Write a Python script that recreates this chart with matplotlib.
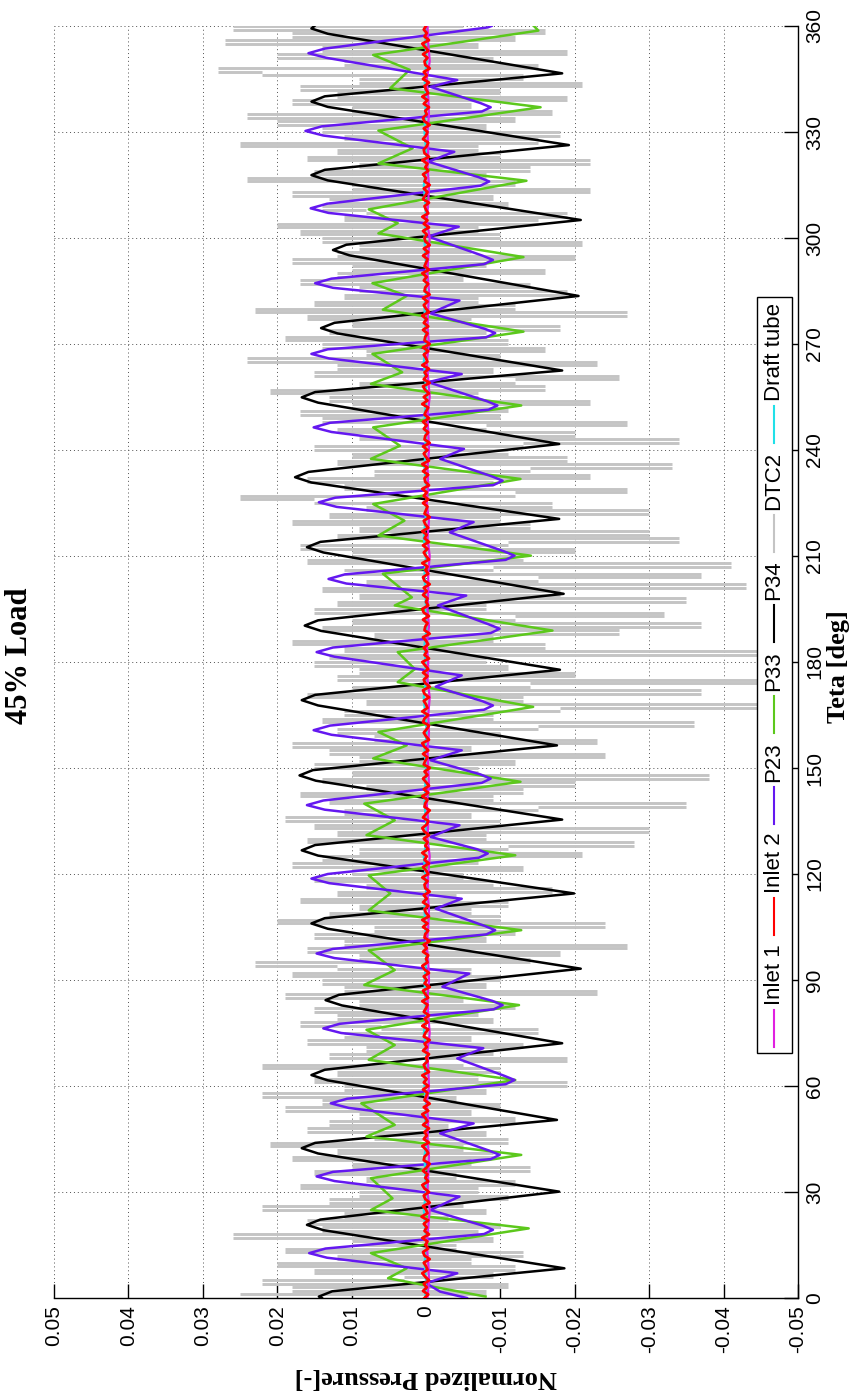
import numpy as np
import matplotlib
matplotlib.use('Agg')
import matplotlib.pyplot as plt
from matplotlib.lines import Line2D
from matplotlib.patches import Rectangle

W, H = 858, 1397

# ---------------- data ----------------
teta_ticks = [0, 30, 60, 90, 120, 150, 180, 210, 240, 270, 300, 330, 360]
teta_labels = [str(t) for t in teta_ticks]
pressure_ticks = [0.05, 0.04, 0.03, 0.02, 0.01, 0.0, -0.01, -0.02, -0.03, -0.04, -0.05]
pressure_labels = ['0.05', '0.04', '0.03', '0.02', '0.01', '0',
                   '-0.01', '-0.02', '-0.03', '-0.04', '-0.05']

legend_names = ['Inlet 1', 'Inlet 2', 'P23', 'P33', 'P34', 'DTC2', 'Draft tube']
legend_colors = ['#e020e0', '#ff0000', '#6418f0', '#5cc81c', '#000000', '#c4c4c4', '#20e0e8']

# P34 (black) vertices
p34_teta = [0.0, 0.4, 1.9, 8.4,
            19.2, 20.7, 22.2, 30.1,
            40.9, 42.4, 43.9, 50.4,
            61.6, 63.1, 64.6, 72.1,
            82.8, 84.3, 85.8, 93.2,
            104.5, 106.0, 107.5, 114.5,
            125.2, 126.7, 128.2, 135.4,
            146.4, 147.9, 149.4, 156.4,
            167.7, 169.2, 170.7, 177.8,
            188.8, 190.3, 191.8, 199.3,
            211.0, 212.5, 214.0, 220.5,
            230.8, 232.3, 233.8, 241.7,
            253.4, 254.9, 256.4, 262.5,
            273.0, 274.5, 276.0, 283.6,
            295.1, 296.6, 298.1, 305.1,
            316.3, 317.8, 319.3, 326.3,
            337.1, 338.6, 340.1, 346.6,
            357.8, 359.3, 360.0]
p34_val = [0.0140, 0.0144, 0.0126, -0.0186,
           0.0138, 0.0160, 0.0142, -0.0179,
           0.0145, 0.0167, 0.0149, -0.0176,
           0.0132, 0.0154, 0.0136, -0.0183,
           0.0113, 0.0135, 0.0117, -0.0208,
           0.0132, 0.0154, 0.0136, -0.0199,
           0.0145, 0.0167, 0.0149, -0.0183,
           0.0148, 0.0170, 0.0152, -0.0176,
           0.0145, 0.0167, 0.0149, -0.0180,
           0.0141, 0.0163, 0.0145, -0.0185,
           0.0138, 0.0160, 0.0142, -0.0179,
           0.0154, 0.0176, 0.0158, -0.0179,
           0.0145, 0.0167, 0.0149, -0.0183,
           0.0119, 0.0141, 0.0123, -0.0205,
           0.0103, 0.0125, 0.0107, -0.0208,
           0.0132, 0.0154, 0.0136, -0.0192,
           0.0132, 0.0154, 0.0136, -0.0183,
           0.0132, 0.0154, 0.0150]

# P23 (purple) vertices
p23_teta = [0.0, 1.8, 4.2, 7.0, 11.4, 12.7, 14.0, 18.1, 19.3, 20.5,
            24.9, 28.7, 33.1, 34.4, 35.7, 39.3, 40.5, 41.7,
            46.6, 49.4, 53.8, 55.1, 56.4, 60.5, 61.7, 62.9,
            67.8, 70.7, 75.0, 76.3, 77.6, 81.7, 82.9, 84.1,
            88.1, 91.8, 96.2, 97.5, 98.8, 102.9, 104.1, 105.3,
            110.2, 113.0, 117.4, 118.7, 120.0, 124.6, 125.8, 127.0,
            130.5, 133.8, 138.2, 139.5, 140.8, 145.8, 147.0, 148.2,
            152.2, 155.0, 159.4, 160.7, 162.0, 166.5, 167.7, 168.9,
            173.0, 176.2, 181.5, 182.8, 184.1, 188.2, 189.4, 190.6,
            196.0, 198.8, 202.2, 203.5, 204.8, 208.9, 210.1, 211.3,
            216.7, 219.6, 223.9, 225.2, 226.5, 230.1, 231.3, 232.5,
            237.5, 240.3, 245.1, 246.4, 247.7, 251.4, 252.6, 253.8,
            259.2, 261.5, 265.9, 267.2, 268.5, 271.9, 273.1, 274.3,
            278.7, 282.3, 285.9, 287.2, 288.5, 292.6, 293.8, 295.0,
            300.4, 303.2, 307.1, 308.4, 309.7, 314.8, 316.0, 317.2,
            321.6, 324.4, 329.0, 330.3, 331.6, 335.8, 337.0, 338.2,
            342.8, 344.7, 351.0, 352.3, 353.6, 359.6, 360.0]
p23_val = [-0.0055, -0.0019, 0.0000, -0.0042, 0.0133, 0.0157, 0.0135, -0.0078, -0.0090, -0.0076,
           -0.0006, -0.0045, 0.0123, 0.0147, 0.0125, -0.0087, -0.0099, -0.0085,
           -0.0019, -0.0064, 0.0104, 0.0128, 0.0106, -0.0107, -0.0119, -0.0105,
           -0.0042, -0.0077, 0.0114, 0.0138, 0.0116, -0.0091, -0.0103, -0.0089,
           -0.0022, -0.0058, 0.0123, 0.0147, 0.0125, -0.0081, -0.0093, -0.0079,
           -0.0013, -0.0048, 0.0130, 0.0154, 0.0132, -0.0071, -0.0083, -0.0069,
           -0.0006, -0.0045, 0.0136, 0.0160, 0.0138, -0.0075, -0.0087, -0.0073,
           -0.0006, -0.0048, 0.0127, 0.0151, 0.0129, -0.0078, -0.0090, -0.0076,
           -0.0013, -0.0048, 0.0123, 0.0147, 0.0125, -0.0087, -0.0099, -0.0085,
           -0.0016, -0.0054, 0.0107, 0.0131, 0.0109, -0.0107, -0.0119, -0.0105,
           -0.0032, -0.0064, 0.0120, 0.0144, 0.0122, -0.0091, -0.0103, -0.0089,
           -0.0019, -0.0051, 0.0127, 0.0151, 0.0129, -0.0084, -0.0096, -0.0082,
           -0.0003, -0.0048, 0.0130, 0.0154, 0.0132, -0.0081, -0.0093, -0.0079,
           -0.0006, -0.0045, 0.0125, 0.0149, 0.0127, -0.0078, -0.0090, -0.0076,
           -0.0003, -0.0044, 0.0131, 0.0155, 0.0133, -0.0073, -0.0085, -0.0071,
           -0.0003, -0.0038, 0.0138, 0.0162, 0.0140, -0.0075, -0.0087, -0.0073,
           -0.0006, -0.0042, 0.0134, 0.0158, 0.0136, -0.0083, -0.0088]

# P33 (green) vertices
p33_teta = [0.4, 5.6, 8.4, 12.7, 19.7, 24.9, 28.2, 33.9, 40.5, 45.7, 49.0, 55.1, 61.7,
            67.4, 71.6, 75.9, 82.9, 88.6, 92.8, 98.4, 104.1, 109.7, 114.5, 119.6,
            125.3, 131.0, 135.2, 139.9, 146.1, 152.7, 156.4, 160.2, 167.3, 174.3,
            178.0, 182.8, 188.9, 196.0, 198.3, 205.0, 210.1, 215.8, 220.0, 224.7,
            231.8, 237.5, 241.2, 246.4, 252.6, 258.7, 262.0, 267.2, 273.5, 279.7,
            283.6, 287.2, 294.6, 301.3, 304.2, 308.1, 316.2, 321.1, 325.4, 330.4,
            337.0, 342.4, 347.6, 351.8, 358.7, 360.0]
p33_val = [-0.0080, 0.0051, 0.0026, 0.0074, -0.0138, 0.0074, 0.0045, 0.0074, -0.0128,
           0.0080, 0.0042, 0.0087, -0.0120, 0.0077, 0.0042, 0.0080, -0.0125, 0.0083,
           0.0042, 0.0077, -0.0128, 0.0077, 0.0048, 0.0077, -0.0120, 0.0080, 0.0042,
           0.0083, -0.0127, 0.0071, 0.0026, 0.0064, -0.0144, 0.0038, 0.0015, 0.0038,
           -0.0170, 0.0042, 0.0019, 0.0058, -0.0141, 0.0064, 0.0029, 0.0071, -0.0127,
           0.0074, 0.0035, 0.0071, -0.0128, 0.0074, 0.0032, 0.0072, -0.0131, 0.0058,
           0.0026, 0.0072, -0.0131, 0.0064, 0.0038, 0.0077, -0.0135, 0.0064, 0.0018,
           0.0064, -0.0154, 0.0048, 0.0022, 0.0071, -0.0151, -0.0145]

# DTC2 (grey), one sample per degree, units of 1e-3
dtc2_e3 = [
    25, -8, 18, -11, 22, 3, -9, 15, -12, 20,
    -6, 12, -13, 19, -4, 10, -9, 26, -7, 14,
    -10, 16, -3, 11, -8, 22, -5, 13, -11, 9,
    -7, 17, -12, 8, -4, 15, -14, 10, -6, 18,
    -9, 12, -5, 21, -11, 7, -8, 16, -3, 13,
    -12, 9, -6, 19, -10, 14, -4, 22, -8, 11,
    -19, 15, -7, 12, -10, 22, -5, -19, 13, -9,
    8, -13, 16, -6, 11, -15, 6, 17, -9, 12,
    -7, 15, -12, 9, -5, 19, -23, 11, -8, 14,
    -10, 18, -6, 12, 23, -14, 9, -18, 16, -27,
    11, -8, 15, -12, 7, -24, 20, -10, 13, -6,
    9, -11, 17, -4, 12, -17, 8, -9, 15, -5,
    10, -13, 18, -7, 14, -21, 9, -11, -28, 16,
    -8, 12, -30, 15, -10, 19, -6, 11, -15, -35,
    13, -9, 17, -13, 8, -20, 14, -38, 10, -7,
    15, -12, 9, -24, 13, -6, 18, -23, 7, -10,
    12, -15, -36, 14, -9, 11, -18, -45, 8, -13,
    16, -37, 10, -14, -45, 12, -20, 9, -11, 15,
    -8, 13, -45, 11, -16, 18, -9, 7, -26, 14,
    -37, 10, -12, -32, 15, -8, 12, -35, 9, -18,
    14, -43, 8, -15, -37, 11, -9, -41, 16, -13,
    10, -20, 17, -11, -34, 12, -30, 9, -14, 18,
    -10, 13, -30, 8, -17, 15, 25, -12, -27, 11,
    -9, 16, -22, 7, -14, -33, 12, -19, 10, -11,
    15, -13, -34, 9, -20, 12, -8, -27, 14, -10,
    17, -11, 10, -22, 13, -7, 21, -16, 9, -12,
    -26, 15, -9, 12, -23, 24, -10, 8, -16, 14,
    -11, 19, -8, 13, -18, 10, -6, 16, -27, 23,
    -12, 15, -7, 11, -19, 9, -14, 17, -5, 12,
    -16, 10, -8, 18, -20, 12, -6, 9, -21, 14,
    -10, 17, -7, 20, -15, 11, -19, 8, 14, -11,
    13, -9, 18, -22, 10, -12, 24, -8, 15, -14,
    9, -22, 16, -10, 12, -7, 25, -15, 11, -18,
    14, -8, 20, -12, 24, -17, 10, -6, 18, -19,
    12, -10, 17, -21, 9, -13, 22, 28, -15, 11,
    -9, 20, -19, 14, -7, 27, -12, 18, -16, 26,
    -5]

# Inlet 2 (red), one sample per degree, units of 1e-4
inlet2_e4 = [
    2, -3, 4, -1, 3, -4, 1, 5, -2, 0,
    3, -5, 2, 4, -3, 1, -2, 5, -4, 2,
    -1, 3, -3, 6, -2, 0, 4, -5, 1, 3,
    -4, 2, 5, -3, 1, -2, 4, -1, -5, 3,
    2, -3, 0, 5, -4, 3, -1, 2, -4, 4,
    -2, 1, 5, -3, 3, -5, 2, 0, -2, 4,
    -3, 3, -1, 5, -4, 1, 3, -2, 0, -4,
    4, -1, 2, -5, 3, 1, -3, 5, -2, 2,
    -4, 3, 0, -2, 5, -3, 1, 4, -5, 2,
    -1, 3, -4, 2, 5, -2, 0, -3, 4, -1,
    3, -5, 2, 1, -3, 4, -2, 5, -4, 0,
    2, -3, 4, -1, 3, -5, 1, 2, -2, 5,
    -3, 0, 4, -4, 2, -1, 5, -3, 1, -2,
    3, -4, 2, 5, -1, -3, 4, 0, -5, 2,
    1, -2, 5, -3, 3, -4, 0, 4, -2, 2,
    -5, 3, 1, -2, 4, -3, 2, 5, -4, 0,
    3, -1, -4, 4, 2, -3, 5, -2, 0, 3,
    -4, 2, 4, -5, 1, 3, -2, 4, -3, 1,
    5, -4, 2, -1, 3, -3, 0, 4, -5, 2,
    1, -2, 4, -4, 3, 5, -3, 0, -2, 4,
    -1, 3, -5, 2, 4, -3, 1, -2, 5, -4,
    0, 3, -2, 4, -4, 2, -1, 5, -3, 1,
    3, -5, 2, 0, -2, 4, -3, 3, -1, 5,
    -4, 1, 2, -3, 4, -2, 5, -4, 0, 3,
    -2, 4, -5, 2, 1, -3, 3, -1, 4, -4,
    2, 0, -3, 5, -2, 3, -4, 1, 4, -5,
    3, -1, 2, -4, 5, -2, 0, 3, -3, 4,
    -5, 2, 1, -2, 4, -3, 3, -1, 5, -4,
    0, 3, -2, 4, -5, 2, 1, -3, 3, -1,
    5, -4, 2, 0, -2, 4, -3, 3, -5, 1,
    2, -1, 4, -4, 3, -2, 5, -3, 0, 2,
    -4, 4, 1, -2, 3, -5, 2, 0, 4, -3,
    1, -2, 5, -4, 2, 3, -1, -3, 4, 0,
    -2, 3, -5, 2, 4, -1, 1, -4, 3, -2,
    5, -3, 0, 2, -4, 4, -1, 3, -5, 1,
    2, -2, 4, -3, 1, 5, -4, 2, -1, 3,
    0]

# Inlet 1 (magenta), every 5 degrees, units of 1e-4
inlet1_e4 = [-2, -4, -3, -1, -3, -5, -2, -3, -4, -2, -3, -1, -4, -3, -2, -5, -3, -2,
             -4, -3, -1, -3, -4, -2, -3, -5, -2, -3, -1, -4, -3, -2, -4, -3, -5, -2,
             -3, -1, -4, -2, -3, -3, -5, -2, -4, -1, -3, -2, -4, -3, -2, -5, -3, -1,
             -4, -2, -3, -4, -2, -3, -5, -1, -3, -4, -2, -3, -2, -4, -3, -1, -5, -3, -2]

# Draft tube (cyan), every 5 degrees, units of 1e-4
draft_e4 = [1, 0, 2, -1, 1, 3, 0, 1, 2, -1, 1, 0, 2, 1, -1, 3, 0, 1, 2, 0, -1, 1, 2, 0,
            1, 3, -1, 0, 2, 1, 0, 2, -1, 1, 3, 0, 1, 2, -1, 0, 1, 2, 0, 3, 1, -1, 0, 2,
            1, 0, 2, -1, 1, 3, 0, 1, 2, 0, -1, 1, 2, 0, 1, 3, -1, 0, 2, 1, 0, 2, -1, 1, 0]


def sample_teta(arr):
    n = len(arr)
    return np.arange(n) * (360.0 / (n - 1))


# ---------------- figure ----------------
sans = ['Liberation Sans', 'DejaVu Sans']
serif = ['Liberation Serif', 'DejaVu Serif']

fig = plt.figure(figsize=(W / 100, H / 100), dpi=100)
fig.patch.set_facecolor('white')
ax = fig.add_axes([54 / W, 1 - 1298 / H, 744 / W, 1272 / H])

dtc2 = np.array(dtc2_e3) * 1e-3
inlet2 = np.array(inlet2_e4) * 1e-4
inlet1 = np.array(inlet1_e4) * 1e-4
draft = np.array(draft_e4) * 1e-4

# grey signal: each sample-to-sample jump drawn as a (nearly) horizontal stroke
t_d = sample_teta(dtc2)
ax.hlines(t_d[1:], dtc2[:-1], dtc2[1:], colors=legend_colors[5], lw=2.1, zorder=2)
ax.plot(p34_val, p34_teta, color=legend_colors[4], lw=1.8, zorder=3)
ax.plot(p33_val, p33_teta, color=legend_colors[3], lw=1.8, zorder=4)
ax.plot(p23_val, p23_teta, color=legend_colors[2], lw=1.8, zorder=5)
ax.plot(draft, sample_teta(draft), color=legend_colors[6], lw=1.6, zorder=6)
ax.plot(inlet1, sample_teta(inlet1), color=legend_colors[0], lw=1.6, zorder=7)
ax.plot(inlet2, sample_teta(inlet2), color=legend_colors[1], lw=2.0, zorder=8)

ax.set_xlim(0.05, -0.05)
ax.set_ylim(0, 360)

ax.spines['top'].set_visible(False)
ax.spines['left'].set_visible(False)
for s in ('bottom', 'right'):
    ax.spines[s].set_linewidth(1.0)
    ax.spines[s].set_color('black')

ax.xaxis.set_ticks_position('bottom')
ax.yaxis.tick_right()
ax.set_xticks(pressure_ticks)
ax.set_xticklabels(pressure_labels, rotation=90, family=sans, fontsize=15)
ax.set_yticks(teta_ticks)
ax.set_yticklabels(teta_labels, rotation=90, va='center', family=sans, fontsize=15)
ax.tick_params(direction='in', length=10, width=1, pad=5)

ax.grid(True, linestyle=(0, (1, 3)), color='#505050', linewidth=0.7)
ax.set_axisbelow(True)

# texts (rotated figure)
fig.text(20 / W, 1 - 656 / H, '45% Load', rotation=90, ha='center', va='center',
         family=serif, fontweight='bold', fontsize=22)
fig.text(838 / W, 1 - 667 / H, 'Teta [deg]', rotation=90, ha='center', va='center',
         family=serif, fontweight='bold', fontsize=19)
fig.text(426 / W, 1 - 1377 / H, 'Normalized Pressure[-]', rotation=180, ha='center',
         va='center', family=serif, fontweight='bold', fontsize=19)

# manual rotated legend
fig.canvas.draw()
renderer = fig.canvas.get_renderer()
lx = 774
y = 1053 - 6
for name, col in zip(legend_names, legend_colors):
    fig.add_artist(Line2D([lx / W, lx / W], [1 - y / H, 1 - (y - 37) / H],
                          color=col, lw=1.5, transform=fig.transFigure, zorder=5))
    y -= 37 + 5
    t = fig.text(lx / W, 1 - y / H, name, rotation=90, ha='center', va='bottom',
                 family=sans, fontsize=16, zorder=6)
    bb = t.get_window_extent(renderer)
    y -= bb.height + 9
top = y + 9 - 6
fig.add_artist(Rectangle((757 / W, 1 - 1053 / H), 35 / W, (1053 - top) / H,
                         transform=fig.transFigure, facecolor='white',
                         edgecolor='black', lw=1.0, zorder=4))

fig.savefig('out.png', dpi=100, facecolor='white')
